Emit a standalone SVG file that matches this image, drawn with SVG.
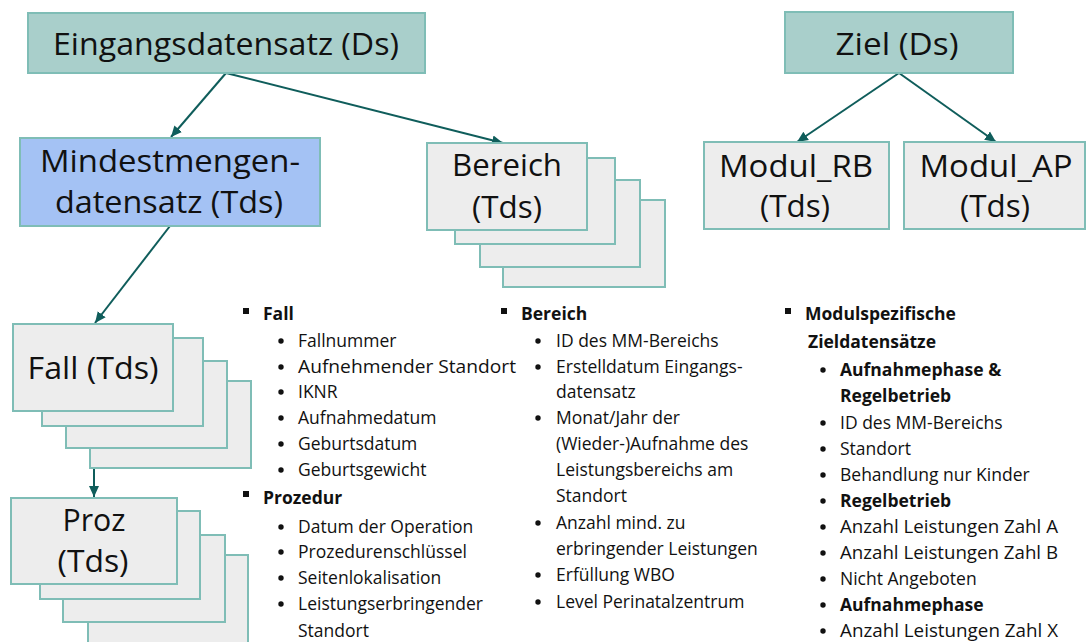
<svg xmlns="http://www.w3.org/2000/svg" width="1087" height="642" viewBox="0 0 1087 642">
  <style>
    .ds { fill: #a9cfcb; stroke: #7fbdb6; stroke-width: 2; }
    .tds { fill: #a4c2f4; stroke: #7fbdb6; stroke-width: 2; }
    .card { fill: #ededed; stroke: #7fbdb6; stroke-width: 2; }
    .label { font-family: "Open Sans", "Noto Sans", sans-serif; font-size: 31px; fill: #111; text-anchor: middle; }
    .item { font-family: "Open Sans", "Noto Sans", sans-serif; font-size: 17.5px; fill: #111; }
    .head { font-weight: bold; }
    .sq { fill: #111; }
    .dot { fill: #111; }
    .edge { stroke: #0f5d5b; stroke-width: 2; fill: none; marker-end: url(#arrow); }
  </style>
  <defs>
    <marker id="arrow" markerUnits="userSpaceOnUse" markerWidth="12" markerHeight="12" refX="11" refY="6" orient="auto">
      <path d="M0,1 L11,6 L0,11 z" fill="#0f5d5b"/>
    </marker>
  </defs>

  <rect width="1087" height="642" fill="#ffffff"/>

  <!-- connectors -->
  <g id="connectors">
    <line class="edge" x1="226" y1="73" x2="171" y2="137"/>
    <line class="edge" x1="226" y1="73" x2="503" y2="143"/>
    <line class="edge" x1="170" y1="226" x2="95" y2="323"/>
    <line class="edge" x1="94" y1="411" x2="94" y2="497"/>
    <line class="edge" x1="899" y1="73" x2="797" y2="142"/>
    <line class="edge" x1="899" y1="73" x2="996" y2="142"/>
  </g>

  <!-- top-level data sets -->
  <g id="eingangsdatensatz">
    <rect class="ds" x="28" y="13" width="397" height="60"/>
    <text class="label" x="226" y="55" textLength="346" lengthAdjust="spacingAndGlyphs">Eingangsdatensatz (Ds)</text>
  </g>
  <g id="ziel">
    <rect class="ds" x="785" y="12" width="228" height="61"/>
    <text class="label" x="897" y="55" textLength="123" lengthAdjust="spacingAndGlyphs">Ziel (Ds)</text>
  </g>

  <g id="mindestmengen">
    <rect class="tds" x="20" y="138" width="300" height="88"/>
    <text class="label" x="170" y="172" textLength="260" lengthAdjust="spacingAndGlyphs">Mindestmengen-</text>
    <text class="label" x="169" y="213" textLength="228" lengthAdjust="spacingAndGlyphs">datensatz (Tds)</text>
  </g>

  <g id="bereich">
    <rect class="card" x="503" y="200" width="162" height="87"/>
    <rect class="card" x="480" y="180" width="160" height="87"/>
    <rect class="card" x="455" y="158" width="160" height="86"/>
    <rect class="card" x="427" y="143" width="160" height="87"/>
    <text class="label" x="507" y="176" textLength="110" lengthAdjust="spacingAndGlyphs">Bereich</text>
    <text class="label" x="507" y="218" textLength="70" lengthAdjust="spacingAndGlyphs">(Tds)</text>
  </g>

  <g id="modul-rb">
    <rect class="card" x="704" y="142" width="185" height="87"/>
    <text class="label" x="796" y="177" textLength="154" lengthAdjust="spacingAndGlyphs">Modul_RB</text>
    <text class="label" x="795" y="217" textLength="70" lengthAdjust="spacingAndGlyphs">(Tds)</text>
  </g>
  <g id="modul-ap">
    <rect class="card" x="904" y="142" width="181" height="87"/>
    <text class="label" x="996" y="177" textLength="153" lengthAdjust="spacingAndGlyphs">Modul_AP</text>
    <text class="label" x="995" y="217" textLength="70" lengthAdjust="spacingAndGlyphs">(Tds)</text>
  </g>

  <g id="fall">
    <rect class="card" x="90" y="381" width="161" height="87"/>
    <rect class="card" x="66" y="361" width="161" height="87"/>
    <rect class="card" x="42" y="338" width="161" height="88"/>
    <rect class="card" x="13" y="324" width="160" height="87"/>
    <text class="label" x="93" y="379" textLength="131" lengthAdjust="spacingAndGlyphs">Fall (Tds)</text>
  </g>

  <g id="proz">
    <rect class="card" x="88" y="555" width="160" height="90"/>
    <rect class="card" x="63" y="535" width="162" height="87"/>
    <rect class="card" x="40" y="511" width="160" height="88"/>
    <rect class="card" x="11" y="498" width="166" height="86"/>
    <text class="label" x="94" y="531" textLength="63" lengthAdjust="spacingAndGlyphs">Proz</text>
    <text class="label" x="93" y="572" textLength="71" lengthAdjust="spacingAndGlyphs">(Tds)</text>
  </g>

  <!-- attribute list: Fall / Prozedur -->
  <g id="list-fall">
    <rect class="sq" x="243" y="308" width="6" height="6"/>
    <text class="item head" x="263" y="320">Fall</text>
    <circle class="dot" cx="281" cy="341" r="2.7"/>
    <text class="item" x="298" y="347">Fallnummer</text>
    <circle class="dot" cx="281" cy="367" r="2.7"/>
    <text class="item" x="298" y="373" textLength="218" lengthAdjust="spacingAndGlyphs">Aufnehmender Standort</text>
    <circle class="dot" cx="281" cy="392" r="2.7"/>
    <text class="item" x="298" y="398">IKNR</text>
    <circle class="dot" cx="281" cy="418" r="2.7"/>
    <text class="item" x="298" y="424">Aufnahmedatum</text>
    <circle class="dot" cx="281" cy="444" r="2.7"/>
    <text class="item" x="298" y="450">Geburtsdatum</text>
    <circle class="dot" cx="281" cy="470" r="2.7"/>
    <text class="item" x="298" y="476">Geburtsgewicht</text>
    <rect class="sq" x="243" y="491" width="6" height="6"/>
    <text class="item head" x="263" y="504">Prozedur</text>
    <circle class="dot" cx="281" cy="527" r="2.7"/>
    <text class="item" x="298" y="533">Datum der Operation</text>
    <circle class="dot" cx="281" cy="552" r="2.7"/>
    <text class="item" x="298" y="558">Prozedurenschlüssel</text>
    <circle class="dot" cx="281" cy="578" r="2.7"/>
    <text class="item" x="298" y="584">Seitenlokalisation</text>
    <circle class="dot" cx="281" cy="604" r="2.7"/>
    <text class="item" x="298" y="610">Leistungserbringender</text>
    <text class="item" x="298" y="637">Standort</text>
  </g>

  <!-- attribute list: Bereich -->
  <g id="list-bereich">
    <rect class="sq" x="501" y="308" width="6" height="6"/>
    <text class="item head" x="521" y="320">Bereich</text>
    <circle class="dot" cx="538" cy="341" r="2.7"/>
    <text class="item" x="556" y="347">ID des MM-Bereichs</text>
    <circle class="dot" cx="538" cy="367" r="2.7"/>
    <text class="item" x="556" y="373">Erstelldatum Eingangs-</text>
    <text class="item" x="556" y="398">datensatz</text>
    <circle class="dot" cx="538" cy="418" r="2.7"/>
    <text class="item" x="556" y="424">Monat/Jahr der</text>
    <text class="item" x="556" y="450">(Wieder-)Aufnahme des</text>
    <text class="item" x="556" y="476">Leistungsbereichs am</text>
    <text class="item" x="556" y="502">Standort</text>
    <circle class="dot" cx="538" cy="523" r="2.7"/>
    <text class="item" x="556" y="529">Anzahl mind. zu</text>
    <text class="item" x="556" y="555">erbringender Leistungen</text>
    <circle class="dot" cx="538" cy="575" r="2.7"/>
    <text class="item" x="556" y="581">Erfüllung WBO</text>
    <circle class="dot" cx="538" cy="602" r="2.7"/>
    <text class="item" x="556" y="608">Level Perinatalzentrum</text>
  </g>

  <!-- attribute list: Modulspezifische Zieldatensätze -->
  <g id="list-modul">
    <rect class="sq" x="785" y="308" width="6" height="6"/>
    <text class="item head" x="805" y="320">Modulspezifische</text>
    <text class="item head" x="808" y="348">Zieldatensätze</text>
    <circle class="dot" cx="823" cy="370" r="2.7"/>
    <text class="item head" x="840" y="376">Aufnahmephase &amp;</text>
    <text class="item head" x="840" y="402">Regelbetrieb</text>
    <circle class="dot" cx="823" cy="423" r="2.7"/>
    <text class="item" x="840" y="429">ID des MM-Bereichs</text>
    <circle class="dot" cx="823" cy="449" r="2.7"/>
    <text class="item" x="840" y="455">Standort</text>
    <circle class="dot" cx="823" cy="475" r="2.7"/>
    <text class="item" x="840" y="481">Behandlung nur Kinder</text>
    <circle class="dot" cx="823" cy="501" r="2.7"/>
    <text class="item head" x="840" y="507">Regelbetrieb</text>
    <circle class="dot" cx="823" cy="527" r="2.7"/>
    <text class="item" x="840" y="533" textLength="218" lengthAdjust="spacingAndGlyphs">Anzahl Leistungen Zahl A</text>
    <circle class="dot" cx="823" cy="553" r="2.7"/>
    <text class="item" x="840" y="559" textLength="218" lengthAdjust="spacingAndGlyphs">Anzahl Leistungen Zahl B</text>
    <circle class="dot" cx="823" cy="579" r="2.7"/>
    <text class="item" x="840" y="585">Nicht Angeboten</text>
    <circle class="dot" cx="823" cy="605" r="2.7"/>
    <text class="item head" x="840" y="611">Aufnahmephase</text>
    <circle class="dot" cx="823" cy="631" r="2.7"/>
    <text class="item" x="840" y="637" textLength="218" lengthAdjust="spacingAndGlyphs">Anzahl Leistungen Zahl X</text>
  </g>
</svg>
